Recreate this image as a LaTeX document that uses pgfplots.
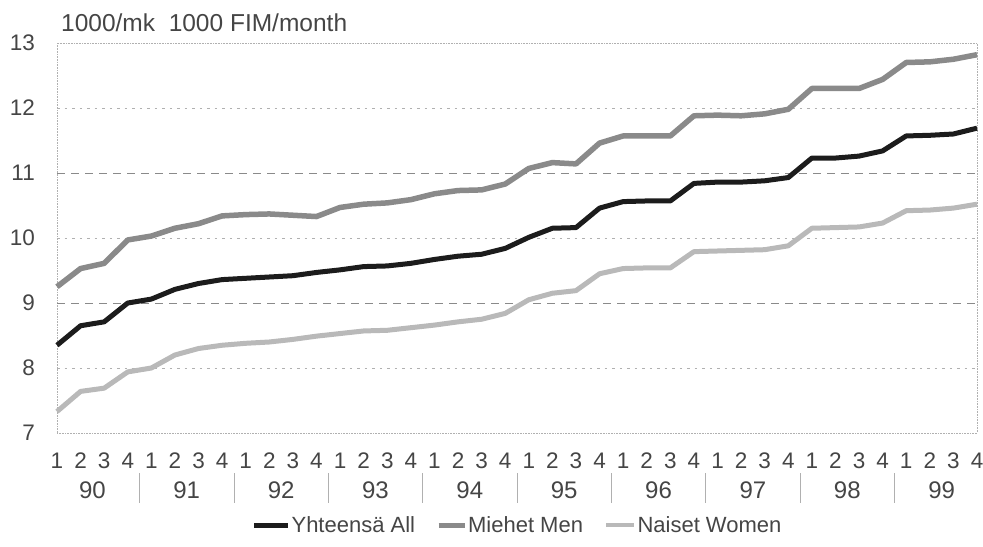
\documentclass[border=0pt]{standalone}
\usepackage{fontspec}
\setmainfont{Liberation Sans}
\usepackage{pgfplots}
\usepackage{pgfplotstable}
\pgfplotsset{compat=1.18}
\definecolor{txt}{HTML}{454545}
\definecolor{allc}{HTML}{1C1C1C}
\definecolor{menc}{HTML}{8A8A8A}
\definecolor{womc}{HTML}{B9B9B9}
\definecolor{gridd}{HTML}{8A8A8A}
\definecolor{gridl}{HTML}{B0B0B0}

\pgfplotstableread{
i all men women
0 8.35 9.25 7.33
1 8.65 9.53 7.64
2 8.71 9.61 7.69
3 9.00 9.97 7.94
4 9.06 10.03 8.00
5 9.21 10.15 8.20
6 9.30 10.22 8.30
7 9.36 10.34 8.35
8 9.38 10.36 8.38
9 9.40 10.37 8.40
10 9.42 10.35 8.44
11 9.47 10.33 8.49
12 9.51 10.47 8.53
13 9.56 10.52 8.57
14 9.57 10.54 8.58
15 9.61 10.59 8.62
16 9.67 10.68 8.66
17 9.72 10.73 8.71
18 9.75 10.74 8.75
19 9.84 10.83 8.84
20 10.01 11.07 9.05
21 10.15 11.16 9.15
22 10.16 11.14 9.19
23 10.46 11.46 9.45
24 10.56 11.57 9.53
25 10.57 11.57 9.54
26 10.57 11.57 9.54
27 10.84 11.88 9.79
28 10.86 11.89 9.80
29 10.86 11.88 9.81
30 10.88 11.91 9.82
31 10.93 11.98 9.88
32 11.23 12.30 10.15
33 11.23 12.30 10.16
34 11.26 12.30 10.17
35 11.34 12.44 10.23
36 11.57 12.70 10.42
37 11.58 12.71 10.43
38 11.60 12.75 10.46
39 11.69 12.82 10.52
}\datatable

\begin{document}
\begin{tikzpicture}
\useasboundingbox (0,0) rectangle (983bp,547bp);
\node[anchor=base west, text=txt, inner sep=0pt, font=\fontsize{24.5bp}{27bp}\selectfont] at (61bp,515bp) {1000/mk\ \ 1000 FIM/month};
\begin{axis}[
  at={(57bp,114bp)}, anchor=south west,
  scale only axis, width=920bp, height=390bp,
  xmin=0, xmax=39, ymin=7, ymax=13,
  axis line style={draw=gridl, densely dotted, line width=0.6bp},
  ytick={7,8,...,13},
  xtick={0,1,...,39},
  xticklabels={1,2,3,4,1,2,3,4,1,2,3,4,1,2,3,4,1,2,3,4,1,2,3,4,1,2,3,4,1,2,3,4,1,2,3,4,1,2,3,4},
  major tick length=0pt,
  tick style={draw=none},
  /pgf/number format/assume math mode=true,
  ticklabel style={font=\fontsize{22.5bp}{24bp}\selectfont, text=txt, inner sep=0pt},
  yticklabel style={anchor=east, xshift=-22bp},
  xticklabel style={anchor=north, yshift=-20bp},
  clip=false,
  legend columns=3,
  legend style={at={(axis description cs:0.5,-0.236)}, anchor=center, draw=none, fill=none,
    font=\fontsize{22bp}{24bp}\selectfont, text=txt,
    /tikz/every even column/.append style={column sep=20bp},
    nodes={inner sep=1bp}},
]
% grid lines
\foreach \yy in {8,10,12} {
  \edef\tmp{\noexpand\draw[gridl, line width=0.6bp, dash pattern=on 2.5bp off 5bp] (axis cs:0,\yy) -- (axis cs:39,\yy);}
  \tmp
}
\foreach \yy in {9,11} {
  \edef\tmp{\noexpand\draw[gridd, line width=0.7bp, dash pattern=on 8bp off 6bp] (axis cs:0,\yy) -- (axis cs:39,\yy);}
  \tmp
}
\addplot[allc, line width=5bp, line join=round, legend image code/.code={\draw[allc, line width=5bp] (0bp,0bp) -- (34bp,0bp);}] table[x=i, y=all] {\datatable};
\addlegendentry{Yhteensä All}
\addplot[menc, line width=5.5bp, line join=round, legend image code/.code={\draw[menc, line width=5bp] (0bp,0bp) -- (26bp,0bp);}] table[x=i, y=men] {\datatable};
\addlegendentry{Miehet Men}
\addplot[womc, line width=5bp, line join=round, legend image code/.code={\draw[womc, line width=4.5bp] (0bp,0bp) -- (28bp,0bp);}] table[x=i, y=women] {\datatable};
\addlegendentry{Naiset Women}
% year labels and separators
\foreach \k/\yr in {0/90,1/91,2/92,3/93,4/94,5/95,6/96,7/97,8/98,9/99} {
  \edef\tmp{\noexpand\node[text=txt, font=\noexpand\fontsize{24bp}{26bp}\noexpand\selectfont, inner sep=0pt] at ([yshift=-57bp]axis cs:\k*4+1.5,7) {\yr};}
  \tmp
}
\foreach \k in {0,...,8} {
  \edef\tmp{\noexpand\draw[gridl, line width=0.7bp] ([yshift=-40bp]axis cs:\k*4+3.5,7) -- ([yshift=-70bp]axis cs:\k*4+3.5,7);}
  \tmp
}
\end{axis}
\end{tikzpicture}
\end{document}
